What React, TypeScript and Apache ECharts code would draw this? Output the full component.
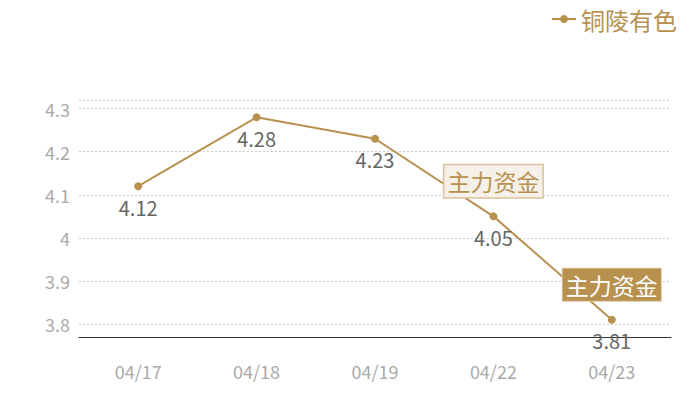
import { useEffect, useRef } from 'react';
import * as echarts from 'echarts';

const categories = ['04/17', '04/18', '04/19', '04/22', '04/23'];
const prices = [4.12, 4.28, 4.23, 4.05, 3.81];
const seriesName = '铜陵有色';
const flagText = '主力资金';
// 主力资金标记：类目下标与是否实心
const flagIndexes = [3, 4];
const flagFilled = [false, true];

const GOLD = '#b8914f';
const FONT = '"Noto Sans CJK SC", "Noto Sans", sans-serif';

const App = () => {
  const chartRef = useRef<HTMLDivElement>(null);

  useEffect(() => {
    if (!chartRef.current) return;
    const chart = echarts.init(chartRef.current, null, { renderer: 'svg' });

    const markData = flagIndexes.map((idx, i) => ({
      coord: [categories[idx], prices[idx]],
      label: flagFilled[i]
        ? {
            color: '#fff',
            backgroundColor: GOLD,
            borderColor: '#d9c39d',
            borderWidth: 1,
          }
        : {
            color: GOLD,
            backgroundColor: '#f5f0e8',
            borderColor: '#d9c39d',
            borderWidth: 1.5,
          },
    }));

    chart.setOption({
      animation: false,
      textStyle: { fontFamily: FONT },
      legend: {
        right: 18,
        top: 2,
        itemWidth: 24,
        itemHeight: 10,
        itemGap: 8,
        textStyle: { color: GOLD, fontSize: 24, fontFamily: FONT },
        data: [seriesName],
      },
      grid: { left: 79, right: 29, top: 100, bottom: 63 },
      xAxis: {
        type: 'category',
        data: categories,
        axisTick: { show: false },
        axisLine: { lineStyle: { color: '#333', width: 1 } },
        axisLabel: { color: '#aaa', fontSize: 18, margin: 25, fontFamily: FONT },
      },
      yAxis: {
        type: 'value',
        min: 3.77,
        max: 4.32,
        axisLine: { show: false },
        axisTick: { show: false },
        axisLabel: {
          color: '#aaa',
          fontSize: 18,
          margin: 9,
          showMinLabel: false,
          showMaxLabel: false,
          fontFamily: FONT,
        },
        splitLine: { lineStyle: { color: '#ccc', type: [2, 2] } },
      },
      series: [
        {
          name: seriesName,
          type: 'line',
          data: prices,
          symbol: 'circle',
          symbolSize: 8,
          lineStyle: { color: GOLD, width: 2 },
          itemStyle: { color: GOLD },
          label: {
            show: true,
            position: 'bottom',
            distance: 7,
            color: '#666',
            fontSize: 20,
            fontFamily: FONT,
          },
          markPoint: {
            symbol: 'circle',
            symbolSize: 0,
            silent: true,
            label: {
              show: true,
              position: 'inside',
              offset: [0, -35],
              formatter: flagText,
              fontSize: 23,
              fontFamily: FONT,
              padding: [5, 3, 4, 3],
            },
            data: markData,
          },
        },
      ],
    });

    return () => chart.dispose();
  }, []);

  return (
    <div
      ref={chartRef}
      style={{ position: 'absolute', left: 0, top: 0, width: 700, height: 400 }}
    />
  );
};

export default App;
